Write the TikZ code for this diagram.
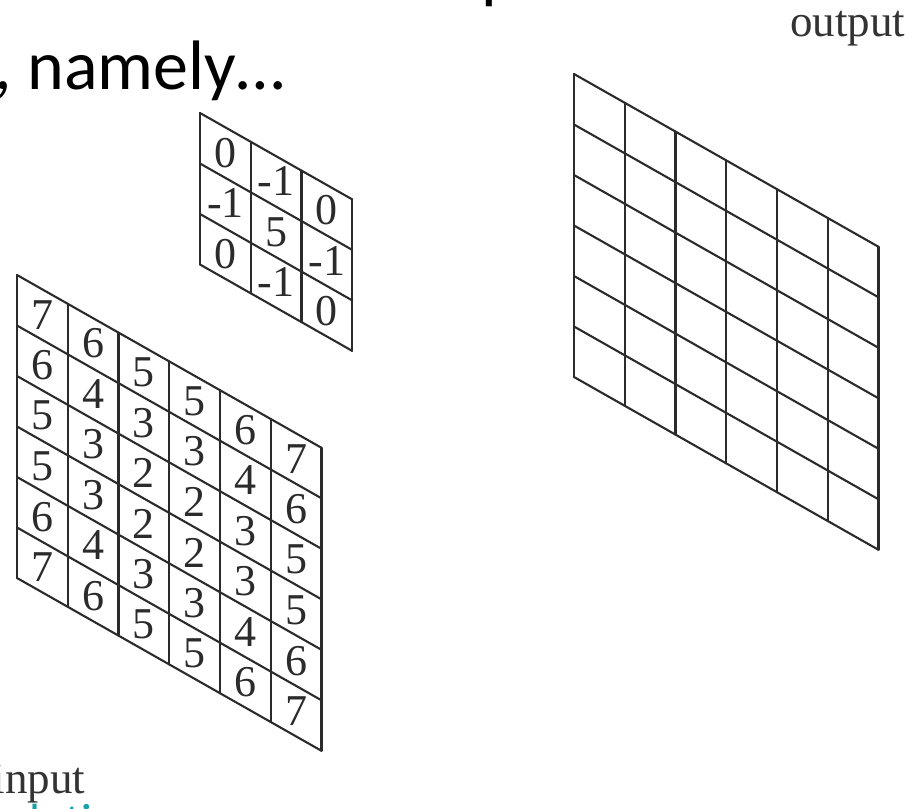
\documentclass[tikz,border=0pt]{standalone}
\usepackage{fontspec}
\usepackage{xcolor}
\usepackage{tikz}
\usetikzlibrary{positioning}
\newfontfamily\slidefont{Carlito}
\newfontfamily\labelfont{Liberation Serif}
\definecolor{gridgray}{HTML}{2B2B2B}
\definecolor{linkteal}{HTML}{1AA0A8}
\tikzset{
  gridline/.style={draw=gridgray, line width=1.05pt, line cap=round, line join=round},
  cellnum/.style={font=\labelfont\fontsize{22}{22}\selectfont, text=gridgray, inner sep=0pt},
  slidetext/.style={font=\slidefont\fontsize{35}{35}\selectfont, inner sep=0pt, anchor=base west},
  maplabel/.style={font=\labelfont\fontsize{22.5}{22.5}\selectfont, text=black!80, inner sep=0pt, anchor=base west},
  sheet/.style={x={(25.375pt,-14.4pt)}, y={(0pt,-25.25pt)}}
}

\begin{document}
\begin{tikzpicture}[x=0.5pt, y=-0.5pt]
  \useasboundingbox (0,0) rectangle (913,808);
  \fill[white] (0,0) rectangle (913,808);

  % slide text, cut off by the frame
  \node[slidetext] (comma) at (250,-9) {,};
  \node[slidetext] (pdesc) at (481,-4) {p};
  \node[slidetext] (namely) at (-6,90) {, namely…};
  \node[maplabel] (outlbl) at (790,37) {output};
  \node[maplabel] (inlbl) at (-7.5,793) {input};
  \node[slidetext, font=\slidefont\fontsize{24}{24}\selectfont, text=linkteal]
    (srcurl) at (4,837) {olution.org};

  % kernel
  \begin{scope}[shift={(200,113)}, sheet]
    \foreach \k in {0,...,3} {
      \draw[gridline] (\k,0) -- (\k,3);
      \draw[gridline] (0,\k) -- (3,\k);
    }
    \foreach \row [count=\r] in {{0,-1,0},{-1,5,-1},{0,-1,0}}
      \foreach \v [count=\c] in \row
        \node[cellnum] (ker-\r-\c) at (\c-0.5,\r-0.5) {\v};
  \end{scope}

  % input image
  \begin{scope}[shift={(17,275)}, sheet]
    \foreach \k in {0,...,6} {
      \draw[gridline] (\k,0) -- (\k,6);
      \draw[gridline] (0,\k) -- (6,\k);
    }
    \foreach \row [count=\r] in {{7,6,5,5,6,7},{6,4,3,3,4,6},{5,3,2,2,3,5},
                                 {5,3,2,2,3,5},{6,4,3,3,4,6},{7,6,5,5,6,7}}
      \foreach \v [count=\c] in \row
        \node[cellnum] (in-\r-\c) at (\c-0.5,\r-0.5) {\v};
  \end{scope}

  % output image
  \begin{scope}[shift={(574,74)}, sheet]
    \foreach \k in {0,...,6} {
      \draw[gridline] (\k,0) -- (\k,6);
      \draw[gridline] (0,\k) -- (6,\k);
    }
  \end{scope}
\end{tikzpicture}
\end{document}
